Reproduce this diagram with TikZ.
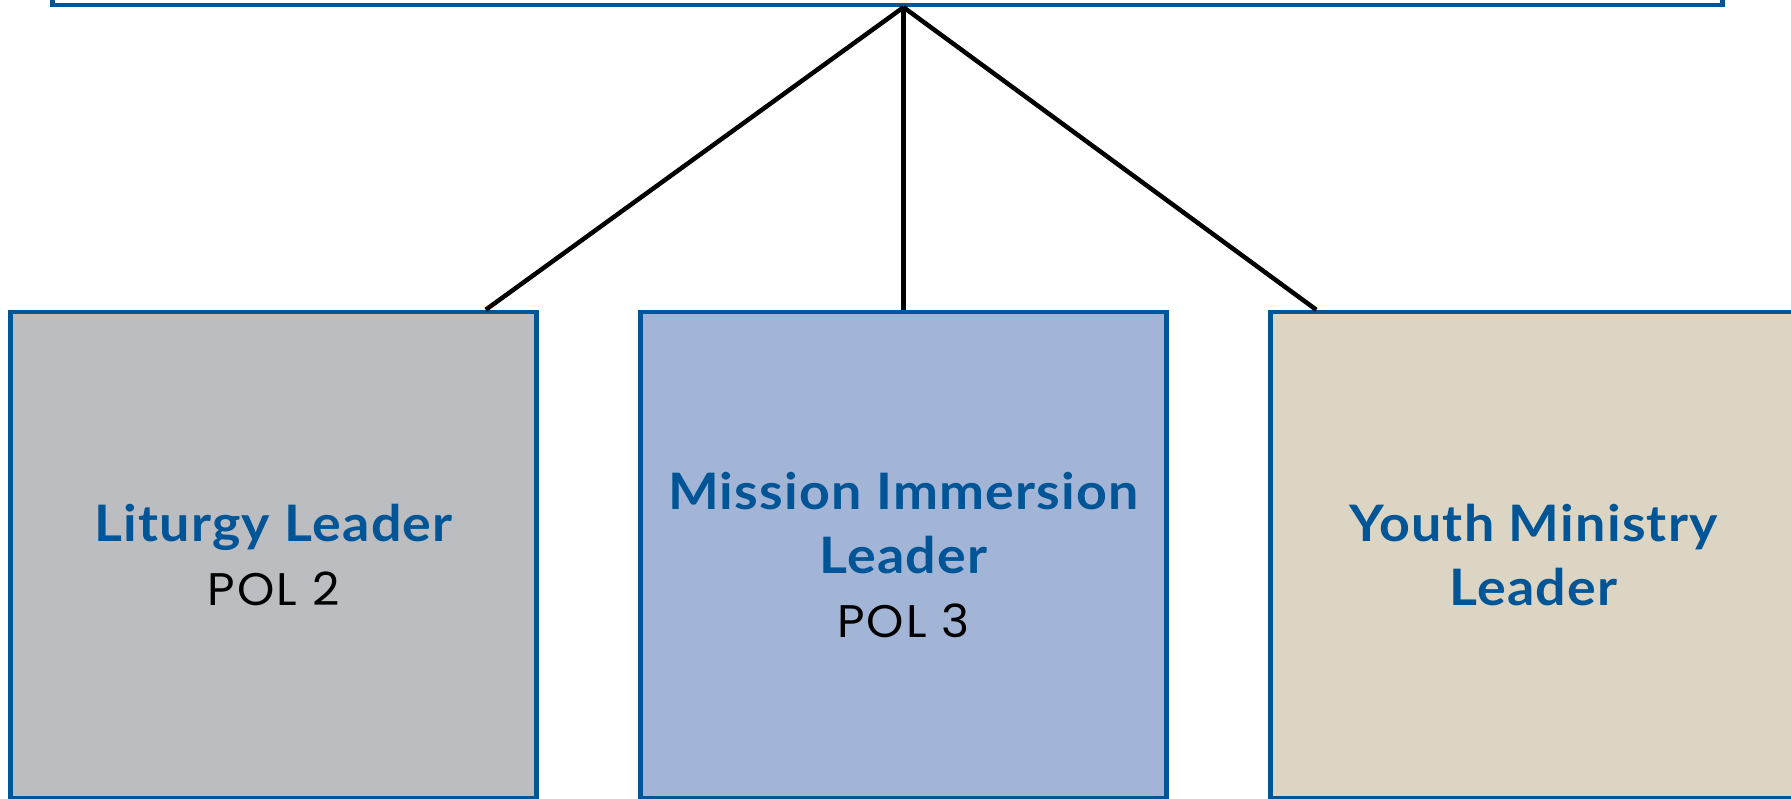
\documentclass[tikz,border=0pt]{standalone}
\usepackage{fontspec}
\setmainfont{Lato}
\newfontfamily\rolefont{Lato}[FakeStretch=1.07, LetterSpace=2.5]
\newfontfamily\polfont{Poppins}[FakeStretch=1.04, LetterSpace=5]
\usetikzlibrary{positioning}
\definecolor{roleblue}{RGB}{0,85,150}
\definecolor{litgray}{RGB}{188,189,192}
\definecolor{misblue}{RGB}{163,181,214}
\definecolor{ythsand}{RGB}{221,213,195}

\begin{document}
\begin{tikzpicture}[
    role/.style={draw=roleblue, line width=0.09cm, minimum width=10.52cm,
        minimum height=9.72cm, align=center, text=roleblue,
        font=\rolefont\fontsize{28.6}{36.4}\selectfont\bfseries},
    link/.style={line width=0.09cm},
    node distance=1.99cm]
    \useasboundingbox (0,0) rectangle (35.82,-15.96);
    \node[draw=roleblue, line width=0.09cm, minimum width=33.4cm, minimum height=3cm] (board) at (17.75,1.4) {};
    \node[role, fill=misblue] (mis) at (18.07,-11.10)
        {Mission Immersion\\Leader\\{\polfont\mdseries\fontsize{26}{36.4}\selectfont\color{black}POL 3}};
    \node[role, fill=litgray, left=of mis] (lit)
        {Liturgy Leader\\{\polfont\mdseries\fontsize{26}{36.4}\selectfont\color{black}POL 2}};
    \node[role, fill=ythsand, right=of mis] (yth) {Youth Ministry\\Leader};

    \coordinate (hub) at (mis.north |- board.south);
    \draw[link] (hub) -- ([xshift=-1.06cm]lit.north east);
    \draw[link] (hub) -- (mis.north);
    \draw[link] (hub) -- ([xshift=0.96cm]yth.north west);
\end{tikzpicture}
\end{document}
